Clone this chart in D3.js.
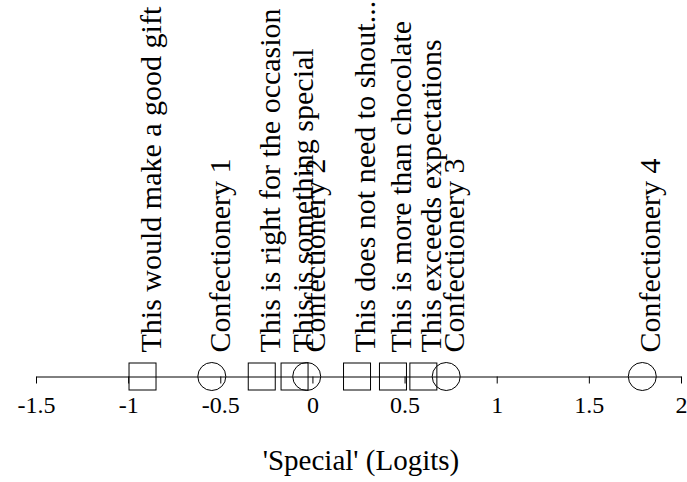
<!DOCTYPE html>
<html>
<head>
  <meta charset="utf-8">
  <style>
    body { margin: 0; background: #fff; }
    svg text { font-family: "Times New Roman", "Liberation Serif", Tinos, serif !important; }
  </style>
</head>
<body>
  <svg width="687" height="482"></svg>
<script src="https://d3js.org/d3.v7.min.js"></script>
<script>

// item labels, logit values and marker kind (statement = square, product = circle)
var labels = [
  "This would make a good gift",
  "Confectionery 1",
  "This is right for the occasion",
  "This is something special",
  "Confectionery 2",
  "This does not need to shout...",
  "This is more than chocolate",
  "This exceeds expectations",
  "Confectionery 3",
  "Confectionery 4"
];
var values = [-0.922, -0.546, -0.275, -0.097, -0.031, 0.242, 0.437, 0.602, 0.726, 1.79];
var kinds = ["square", "circle", "square", "square", "circle", "square", "square", "square", "circle", "circle"];
var tickValues = [-1.5, -1, -0.5, 0, 0.5, 1, 1.5, 2];
var axisTitle = "'Special' (Logits)";

var serif = "Times New Roman, Liberation Serif, serif";

var svg = d3.select("svg");
var axisY = 376.5;

var x = d3.scaleLinear().domain([-1.5, 2]).range([36, 681]);

var data = labels.map(function(d, i) {
  return { label: d, value: values[i], kind: kinds[i] };
});

var axis = svg.append("g")
    .attr("transform", "translate(0," + axisY + ")")
    .call(d3.axisBottom(x).tickValues(tickValues).tickSize(7).tickSizeOuter(0).tickPadding(12)
      .tickFormat(function(d) { return d; }));
axis.attr("font-family", serif).attr("font-size", 24);
axis.select(".domain").attr("stroke", "#000");
axis.selectAll(".tick line").attr("stroke", "#000");
axis.selectAll(".tick text").attr("fill", "#000");

svg.append("text")
    .attr("x", 361)
    .attr("y", 470)
    .attr("text-anchor", "middle")
    .attr("font-family", serif)
    .attr("font-size", 29)
    .text(axisTitle);

var marks = svg.append("g");

marks.selectAll("rect")
  .data(data.filter(function(d) { return d.kind === "square"; }))
  .enter().append("rect")
    .attr("x", function(d) { return x(d.value) - 13.5; })
    .attr("y", axisY - 13.5)
    .attr("width", 27)
    .attr("height", 27)
    .attr("fill", "none")
    .attr("stroke", "#000");

marks.selectAll("circle")
  .data(data.filter(function(d) { return d.kind === "circle"; }))
  .enter().append("circle")
    .attr("cx", function(d) { return x(d.value); })
    .attr("cy", axisY)
    .attr("r", 14)
    .attr("fill", "none")
    .attr("stroke", "#000");

svg.append("g").selectAll("text")
  .data(data)
  .enter().append("text")
    .attr("transform", function(d) {
      return "translate(" + (x(d.value) + 18) + "," + (axisY - 24) + ") rotate(-90)";
    })
    .attr("font-family", serif)
    .attr("font-size", 30)
    .attr("fill", "#000")
    .text(function(d) { return d.label; });

</script>
</body>
</html>
